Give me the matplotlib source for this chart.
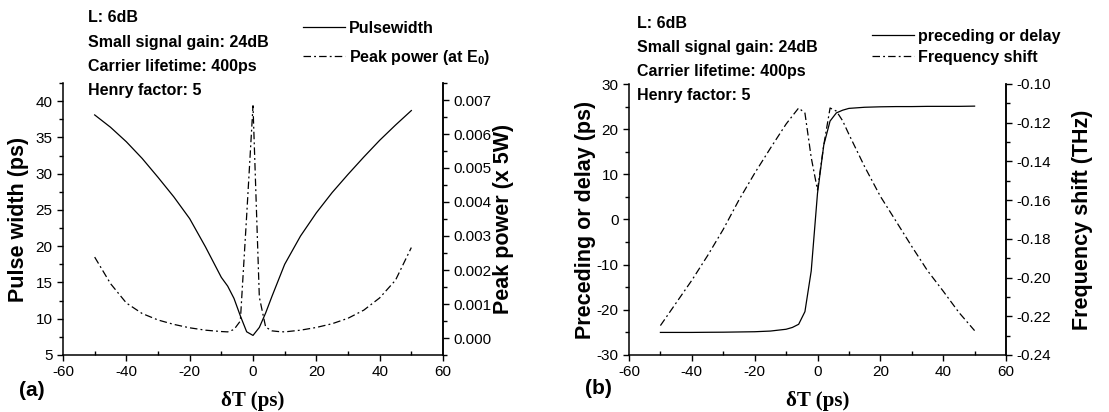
import matplotlib
matplotlib.use('Agg')
import matplotlib.pyplot as plt
from matplotlib.ticker import MultipleLocator

plt.rcParams['font.family'] = ['Liberation Sans', 'DejaVu Sans']
plt.rcParams['mathtext.fontset'] = 'custom'
plt.rcParams['mathtext.rm'] = 'Liberation Sans:bold'
plt.rcParams['axes.unicode_minus'] = False

# time offset grid (ps), shared by both panels
dt = [-50, -45, -40, -35, -30, -25, -20, -15, -10, -8, -6, -4, -2, 0,
      2, 4, 6, 8, 10, 15, 20, 25, 30, 35, 40, 45, 50]

# (a) pulse width (ps) and peak power (x 5W)
pulsewidth = [38.1, 36.4, 34.4, 32.1, 29.5, 26.8, 23.8, 19.9, 15.7, 14.5, 12.8, 10.4, 8.2, 7.7,
              8.8, 10.8, 13.1, 15.3, 17.5, 21.4, 24.6, 27.4, 29.9, 32.3, 34.6, 36.7, 38.7]
peak_power = [0.00238, 0.0016, 0.00103, 0.00072, 0.00053, 0.0004, 0.0003, 0.00023, 0.00019, 0.00018,
              0.00025, 0.0005, 0.0036, 0.00683, 0.0012, 0.00032, 0.00021, 0.00019, 0.00018, 0.00023,
              0.00031, 0.00042, 0.00058, 0.00082, 0.00118, 0.0017, 0.00266]

# (b) preceding or delay (ps) and frequency shift (THz)
delay = [-25.0, -25.0, -25.0, -24.97, -24.95, -24.9, -24.85, -24.7, -24.3, -23.9, -23.2, -20.4, -11.4, 5.8,
         16.5, 21.8, 23.6, 24.2, 24.6, 24.85, 24.95, 25.0, 25.0, 25.05, 25.05, 25.05, 25.1]
freq_shift = [-0.2248, -0.2131, -0.2014, -0.1887, -0.1751, -0.1599, -0.1461, -0.1332, -0.1207, -0.1165,
              -0.1124, -0.1150, -0.1380, -0.1548, -0.1315, -0.1124, -0.1140, -0.1190, -0.1260, -0.1427,
              -0.1580, -0.1709, -0.1839, -0.1964, -0.2070, -0.2180, -0.2274]

notes = ['L: 6dB', 'Small signal gain: 24dB', 'Carrier lifetime: 400ps', 'Henry factor: 5']

W, H = 1109, 412
fig = plt.figure(figsize=(W / 100, H / 100), dpi=100)

dashdot = (0, (6, 2.5, 1.5, 2.5))
lw = 0.9


def fx(px):
    return px / W


def fy(py):
    return 1 - py / H


def style(ax, side):
    ax.spines['top'].set_visible(False)
    for s in ax.spines.values():
        s.set_linewidth(1.1)
    ax.tick_params(axis='both', which='major', length=4, width=1, labelsize=11)
    ax.tick_params(axis='both', which='minor', length=3, width=1)
    ax.tick_params(axis='x', which='minor', direction='in')
    if side == 'right':
        ax.spines['left'].set_visible(False)
        ax.spines['bottom'].set_visible(False)


def panel(rect, y1, y2, lab1, lab2, ylim1, ylim2, step1, step2, leg, leg_pos, leg_sp,
          note_x, note_y, tag, tag_pos, ylab_x, ylab2_x):
    ax = fig.add_axes(rect)
    ax2 = ax.twinx()
    l1, = ax.plot(dt, y1, color='black', lw=lw, label=leg[0])
    l2, = ax2.plot(dt, y2, color='black', lw=lw, linestyle=dashdot, label=leg[1])
    ax.set_xlim(-60, 60)
    ax.set_ylim(*ylim1)
    ax2.set_ylim(*ylim2)
    ax.xaxis.set_major_locator(MultipleLocator(20))
    ax.xaxis.set_minor_locator(MultipleLocator(10))
    ax.yaxis.set_major_locator(MultipleLocator(step1))
    ax.yaxis.set_minor_locator(MultipleLocator(step1 / 2))
    ax2.yaxis.set_major_locator(MultipleLocator(step2))
    ax2.yaxis.set_minor_locator(MultipleLocator(step2 / 2))
    style(ax, 'left')
    style(ax2, 'right')
    ax.set_xlabel('δT (ps)', family=['Liberation Serif', 'DejaVu Serif'], fontweight='bold',
                  fontsize=15, labelpad=8)
    ax.set_ylabel(lab1, fontsize=15.5, fontweight='bold')
    ax.yaxis.set_label_coords(ylab_x, 0.5)
    ax2.set_ylabel(lab2, fontsize=15.5, fontweight='bold')
    ax2.yaxis.set_label_coords(ylab2_x, 0.5)
    for i, t in enumerate(notes):
        fig.text(fx(note_x), fy(note_y + i * 24.3), t, fontsize=11.5, fontweight='bold',
                 va='center', ha='left')
    fig.text(fx(tag_pos[0]), fy(tag_pos[1]), tag, fontsize=15, fontweight='bold',
             va='center', ha='left')
    ax.legend([l1, l2], leg, loc='upper left', frameon=False,
              bbox_to_anchor=(fx(leg_pos[0]), fy(leg_pos[1])), bbox_transform=fig.transFigure,
              borderpad=0, borderaxespad=0, handlelength=2.6, handletextpad=0.3,
              labelspacing=leg_sp, prop={'weight': 'bold', 'size': 11.5})
    return ax, ax2


panel([fx(63), fy(355), fx(443) - fx(63), fy(83) - fy(355)],
      pulsewidth, peak_power, 'Pulse width (ps)', 'Peak power (x 5W)',
      (5, 42.5), (-0.0005, 0.0075), 5, 0.001,
      ['Pulsewidth', r'Peak power (at E$_{0}$)'], (303, 21), 0.75,
      88, 18, '(a)', (19, 390), -0.089, 1.132)

panel([fx(629), fy(355), fx(1006) - fx(629), fy(84) - fy(355)],
      delay, freq_shift, 'Preceding or delay (ps)', 'Frequency shift (THz)',
      (-30, 30), (-0.24, -0.10), 10, 0.02,
      ['preceding or delay', 'Frequency shift'], (872, 29), 0.375,
      637, 23, '(b)', (585, 388), -0.088, 1.175)

fig.savefig('out.png', dpi=100)
